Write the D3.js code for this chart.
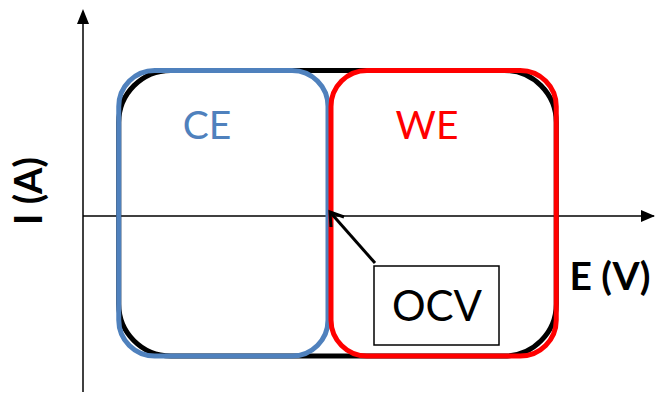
<!DOCTYPE html>
<html><head><meta charset="utf-8">
<script src="https://cdn.jsdelivr.net/npm/d3@7"></script>
<style>body{margin:0;background:#fff}</style>
</head><body>
<svg id="c" width="655" height="394"></svg>
<script>
// data (E in V units, I in A units, schematic)
const regions = ["CE", "WE"];
const regionE = [[-0.845, -0.008], [0.004, 0.905]];
const regionI = [-1.0, 1.04];
const regionColors = ["#4F81BD", "#FF0000"];
const ocvE = 0;
const axisLabels = ["E (V)", "I (A)"];
const ocvLabel = "OCV";

const W = 655, H = 394;
const x = d3.scaleLinear().domain([0, 1]).range([330, 580]);
const y = d3.scaleLinear().domain([0, 1]).range([216, 76]);
const svg = d3.select("#c");
const font = "Lato, 'Open Sans', sans-serif";

// axes
const xAxisLeft = 83;
svg.append("line").attr("x1", xAxisLeft).attr("x2", 654).attr("y1", y(0)).attr("y2", y(0))
  .attr("stroke", "#000").attr("stroke-width", 1.5);
svg.append("path").attr("d", `M655,${y(0)} L641,${y(0)-6} L641,${y(0)+6} Z`).attr("fill", "#000");
svg.append("line").attr("x1", xAxisLeft).attr("x2", xAxisLeft).attr("y1", 392).attr("y2", 22)
  .attr("stroke", "#000").attr("stroke-width", 1.5);
svg.append("path").attr("d", `M${xAxisLeft},9 L${xAxisLeft-6},24 L${xAxisLeft+6},24 Z`).attr("fill", "#000");

// black overall envelope
const eMin = d3.min(regionE, d => d[0]), eMax = d3.max(regionE, d => d[1]);
svg.append("rect")
  .attr("x", x(eMin)).attr("y", y(regionI[1]))
  .attr("width", x(eMax) - x(eMin)).attr("height", y(regionI[0]) - y(regionI[1]))
  .attr("rx", 52).attr("fill", "none").attr("stroke", "#000").attr("stroke-width", 5);

// region rects
regions.forEach((r, i) => {
  const [e0, e1] = regionE[i];
  svg.append("rect")
    .attr("x", x(e0)).attr("y", y(regionI[1]))
    .attr("width", x(e1) - x(e0)).attr("height", y(regionI[0]) - y(regionI[1]))
    .attr("rx", 36).attr("fill", "none").attr("stroke", regionColors[i]).attr("stroke-width", 5);
});
// label positions
const labelPos = [[207, 139], [427, 139]];
regions.forEach((r, i) => {
  svg.append("text").attr("x", labelPos[i][0]).attr("y", labelPos[i][1])
    .attr("text-anchor", "middle").attr("font-family", font).attr("font-size", 39)
    .attr("fill", regionColors[i]).text(r);
});

// OCV arrow and box
svg.append("line").attr("x1", 375).attr("y1", 263).attr("x2", x(ocvE)).attr("y2", y(0) - 4)
  .attr("stroke", "#000").attr("stroke-width", 3);
svg.append("path").attr("d", `M${x(ocvE)+14},${y(0)+1} L${x(ocvE)},${y(0)-4} L${x(ocvE)+1},${y(0)+11}`)
  .attr("fill", "none").attr("stroke", "#000").attr("stroke-width", 3);
svg.append("rect").attr("x", 374).attr("y", 266).attr("width", 125).attr("height", 79)
  .attr("fill", "#fff").attr("stroke", "#000").attr("stroke-width", 1.5);
svg.append("text").attr("x", 437).attr("y", 321).attr("text-anchor", "middle")
  .attr("font-family", font).attr("font-size", 42).attr("fill", "#000").text(ocvLabel);

// axis labels
svg.append("text").attr("x", 610).attr("y", 290).attr("text-anchor", "middle")
  .attr("font-family", font).attr("font-weight", "bold").attr("font-size", 39).text(axisLabels[0]);
svg.append("text").attr("transform", "translate(42,191) rotate(-90)").attr("text-anchor", "middle")
  .attr("font-family", font).attr("font-weight", "bold").attr("font-size", 38).text(axisLabels[1]);
</script>
</body></html>
